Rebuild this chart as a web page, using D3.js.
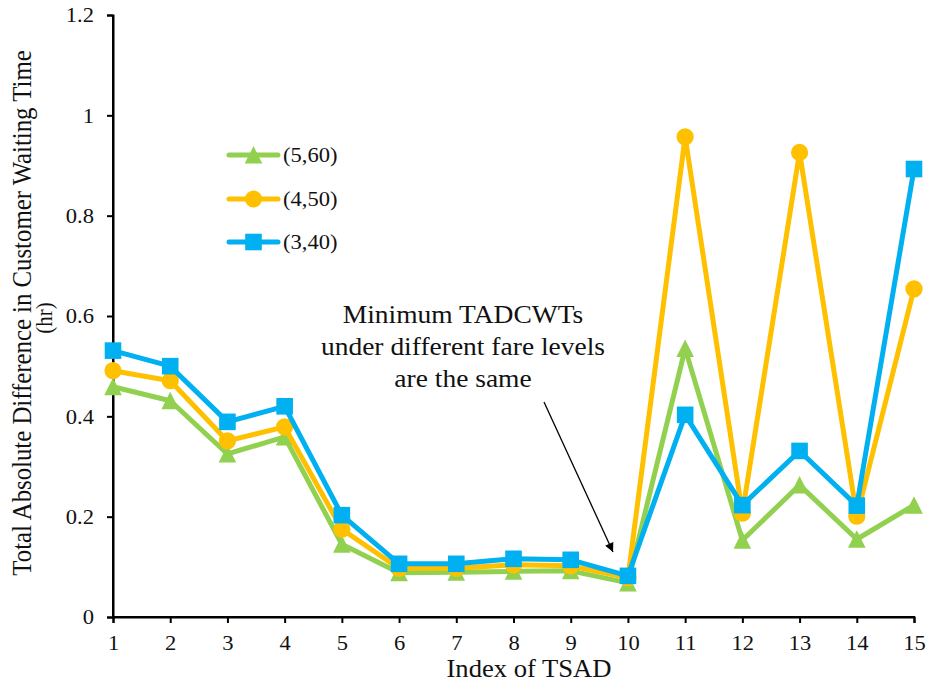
<!DOCTYPE html>
<html>
<head>
<meta charset="utf-8">
<script src="https://cdn.jsdelivr.net/npm/d3@7"></script>
<style>
  html, body { margin: 0; padding: 0; background: #fff; }
  svg { display: block; }
  svg text { font-family: "Liberation Serif", "Times New Roman", serif; }
</style>
</head>
<body>
<svg id="chart" width="929" height="684"></svg>
<script>
const tsadIndex = [1, 2, 3, 4, 5, 6, 7, 8, 9, 10, 11, 12, 13, 14, 15];
const seriesNames = ["(5,60)", "(4,50)", "(3,40)"];
const values5_60 = [0.459, 0.431, 0.325, 0.359, 0.145, 0.088, 0.089, 0.091, 0.092, 0.068, 0.535, 0.153, 0.263, 0.155, 0.223];
const values4_50 = [0.491, 0.471, 0.351, 0.379, 0.175, 0.097, 0.097, 0.104, 0.102, 0.078, 0.957, 0.207, 0.926, 0.201, 0.654];
const values3_40 = [0.531, 0.500, 0.389, 0.420, 0.203, 0.106, 0.106, 0.116, 0.114, 0.082, 0.403, 0.223, 0.331, 0.222, 0.893];
const yTicks = [0, 0.2, 0.4, 0.6, 0.8, 1, 1.2];
const xTitle = "Index of TSAD";
const yTitleLines = ["Total Absolute Difference in Customer Waiting Time", "(hr)"];
const noteLines = ["Minimum TADCWTs", "under different fare levels", "are the same"];

const colors = ["#92D050", "#FFC000", "#00B0F0"];
const shapes = ["triangle", "circle", "square"];
const allSeries = [values5_60, values4_50, values3_40];
const SERIF = "Liberation Serif";
const SX = 1.1; // glyphs in the reference are slightly horizontally widened

const svg = d3.select("#chart");
const x = d3.scaleLinear().domain([1, 15]).range([113, 914]);
const y = d3.scaleLinear().domain([0, 1.2]).range([617, 15]);

function stretch(sel) {
  sel.each(function () {
    const t = d3.select(this);
    const tx = +t.attr("x") || 0, ty = +t.attr("y") || 0;
    t.attr("x", 0).attr("y", 0).attr("transform", `translate(${tx},${ty}) scale(${SX},1)`);
  });
}

// axes
const xAxis = svg.append("g").attr("transform", `translate(0,${y(0)})`)
  .call(d3.axisBottom(x).tickValues(tsadIndex).tickFormat(d3.format("d")).tickSizeOuter(0).tickSize(6));
const yAxis = svg.append("g").attr("transform", `translate(${x(1)},0)`)
  .call(d3.axisLeft(y).tickValues(yTicks).tickFormat(d => String(d)).tickSizeOuter(0).tickSize(6).tickPadding(13));
[xAxis, yAxis].forEach(a => {
  a.attr("font-family", SERIF);
  a.select(".domain").attr("stroke", "#000").attr("stroke-width", 2);
  a.selectAll(".tick line").attr("stroke", "#000").attr("stroke-width", 2);
  a.selectAll(".tick text").attr("fill", "#111").attr("font-size", 20.5);
});
xAxis.selectAll(".tick text").attr("y", 33).attr("dy", 0);
yAxis.selectAll(".tick text").attr("dy", "0.33em");
stretch(xAxis.selectAll(".tick text"));
stretch(yAxis.selectAll(".tick text"));
svg.append("line").attr("x1", x(1) - 1).attr("x2", x(15) + 1).attr("y1", y(0)).attr("y2", y(0))
  .attr("stroke", "#000").attr("stroke-width", 2);
svg.append("line").attr("x1", x(1)).attr("x2", x(1)).attr("y1", y(1.2)).attr("y2", y(0) + 1)
  .attr("stroke", "#000").attr("stroke-width", 2);

// titles
svg.append("text").attr("x", 529).attr("y", 677).attr("text-anchor", "middle")
  .attr("font-size", 24.2).attr("fill", "#111").text(xTitle).call(stretch);
svg.append("text").attr("transform", `translate(30.7,313) scale(${SX},1) rotate(-90)`)
  .attr("text-anchor", "middle").attr("font-size", 24.8).attr("fill", "#111").text(yTitleLines[0]);
svg.append("text").attr("transform", `translate(52,318) scale(${SX},1) rotate(-90)`)
  .attr("text-anchor", "middle").attr("font-size", 21).attr("fill", "#111").text(yTitleLines[1]);

// markers
function markerPath(shape) {
  if (shape === "square") return "M-8.3,-8.3H8.3V8.3H-8.3Z";
  if (shape === "triangle") return "M0,-9L8.8,8.5H-8.8Z";
  return d3.symbol().type(d3.symbolCircle).size(Math.PI * 8.6 * 8.6)();
}

const line = d3.line().x((d, i) => x(tsadIndex[i])).y(d => y(d));
allSeries.forEach((vals, s) => {
  const g = svg.append("g");
  g.append("path").attr("d", line(vals)).attr("fill", "none")
    .attr("stroke", colors[s]).attr("stroke-width", 5).attr("stroke-linejoin", "round");
  g.selectAll("path.m").data(vals).enter().append("path").attr("class", "m")
    .attr("d", markerPath(shapes[s]))
    .attr("transform", (d, i) => `translate(${x(tsadIndex[i])},${y(d)})`)
    .attr("fill", colors[s]);
});

// legend
const legendY = [155, 199, 242];
seriesNames.forEach((name, s) => {
  const g = svg.append("g").attr("transform", `translate(0,${legendY[s]})`);
  g.append("line").attr("x1", 229).attr("x2", 278).attr("y1", 0).attr("y2", 0)
    .attr("stroke", colors[s]).attr("stroke-width", 5).attr("stroke-linecap", "round");
  g.append("path").attr("d", markerPath(shapes[s])).attr("transform", "translate(253.5,0)").attr("fill", colors[s]);
  g.append("text").attr("x", 283).attr("y", 6.5).attr("font-size", 20.5).attr("fill", "#111").text(name).call(stretch);
});

// annotation
const noteY = [323, 355, 387];
noteLines.forEach((t, i) => {
  svg.append("text").attr("x", 463).attr("y", noteY[i]).attr("text-anchor", "middle")
    .attr("font-size", 25).attr("fill", "#111").text(t).call(stretch);
});
svg.append("defs").append("marker").attr("id", "arrow").attr("viewBox", "0 0 10 10")
  .attr("refX", 10).attr("refY", 5).attr("markerWidth", 11).attr("markerHeight", 9)
  .attr("markerUnits", "userSpaceOnUse").attr("orient", "auto")
  .append("path").attr("d", "M0,0L10,5L0,10Z").attr("fill", "#000");
svg.append("line").attr("x1", 544).attr("y1", 402).attr("x2", 613).attr("y2", 552)
  .attr("stroke", "#000").attr("stroke-width", 1.3).attr("marker-end", "url(#arrow)");

svg.selectAll("text").attr("font-family", SERIF);
</script>
</body>
</html>
